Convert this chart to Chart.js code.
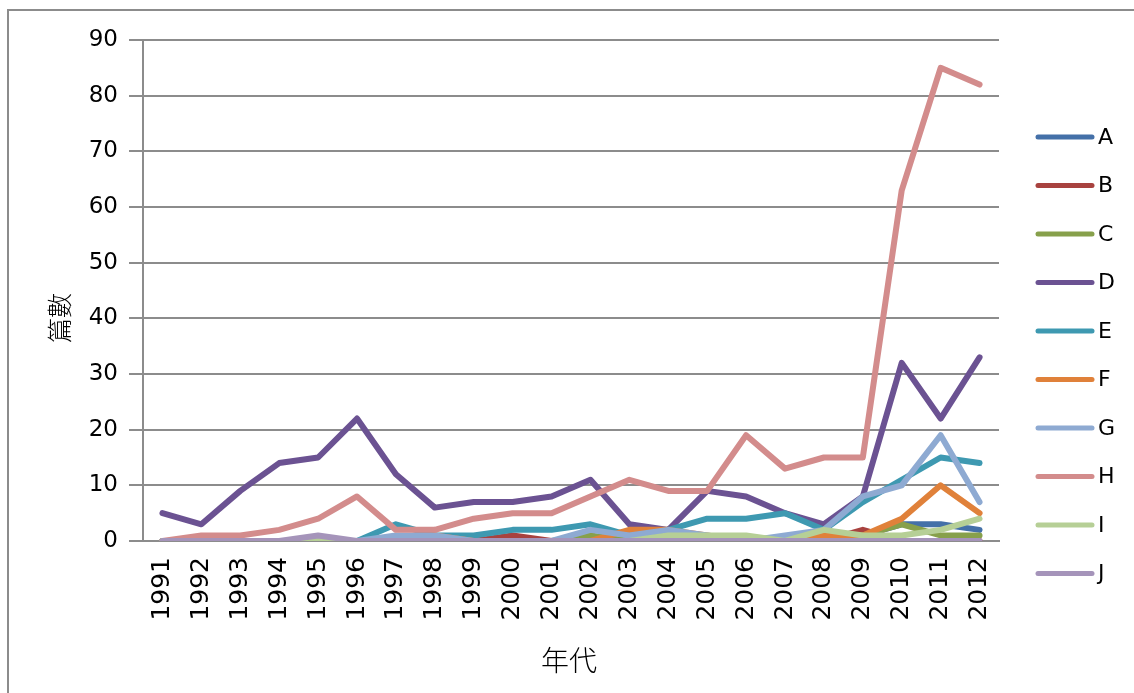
<!DOCTYPE html>
<html>
<head>
<meta charset="utf-8">
<script src="https://cdn.jsdelivr.net/npm/chart.js@4.4.0/dist/chart.umd.min.js"></script>
<style>
  html, body { margin: 0; padding: 0; background: #fff; overflow: hidden; }
  #frame { position: absolute; left: 7px; top: 9px; width: 1200px; height: 800px; border: 2px solid #8c8c8c; z-index: 0; }
  #c { position: absolute; left: 0; top: 0; z-index: 1; }
</style>
</head>
<body>
<div id="frame"></div>
<canvas id="c" width="1134" height="693"></canvas>
<script>
// years on the x axis
var years = ['1991','1992','1993','1994','1995','1996','1997','1998','1999','2000','2001',
             '2002','2003','2004','2005','2006','2007','2008','2009','2010','2011','2012'];

// series values (count per year)
var seriesA = [0,0,0,0,0,0,0,0,0,0,0, 0,0,0,0,0,0,0,1,3,3,2];
var seriesB = [0,0,0,0,0,0,0,0,0,1,0, 0,0,0,0,0,0,0,2,0,0,0];
var seriesC = [0,0,0,0,0,0,0,0,0,0,0, 1,0,0,0,0,0,0,1,3,1,1];
var seriesD = [5,3,9,14,15,22,12,6,7,7,8, 11,3,2,9,8,5,3,8,32,22,33];
var seriesE = [0,0,0,0,0,0,3,1,1,2,2, 3,1,2,4,4,5,2,7,11,15,14];
var seriesF = [0,0,0,0,0,0,0,1,0,0,0, 0,2,2,1,0,0,1,1,4,10,5];
var seriesG = [0,0,0,0,0,0,1,1,0,0,0, 2,1,2,1,0,1,2,8,10,19,7];
var seriesH = [0,1,1,2,4,8,2,2,4,5,5, 8,11,9,9,19,13,15,15,63,85,82];
var seriesI = [0,0,0,0,0,0,0,0,0,0,0, 0,0,1,1,1,0,2,1,1,2,4];
var seriesJ = [0,0,0,0,1,0,0,0,0,0,0, 0,0,0,0,0,0,0,0,0,0,0];

var names = ['A','B','C','D','E','F','G','H','I','J'];
var values = [seriesA, seriesB, seriesC, seriesD, seriesE, seriesF, seriesG, seriesH, seriesI, seriesJ];
var colors = ['#4470a8','#a8423f','#87a04b','#6b5292','#3e99b1','#e0813a','#8eaad2','#d38c8c','#b6cf96','#a594ba'];

var FONT = 'DejaVu Sans';

var datasets = names.map(function (n, i) {
  return {
    label: n,
    data: values[i],
    borderColor: colors[i],
    backgroundColor: colors[i],
    borderWidth: 6,
    pointRadius: 0,
    tension: 0,
    borderCapStyle: 'round',
    borderJoinStyle: 'round',
    order: names.length - i   // later series on top, like the original
  };
});

// legend on the right and the two axis titles, drawn by hand
var extras = {
  id: 'extras',
  afterDraw: function (chart) {
    var ctx = chart.ctx;
    var area = chart.chartArea;
    ctx.save();
    ctx.font = '22px "' + FONT + '"';
    ctx.textBaseline = 'middle';
    ctx.textAlign = 'left';
    chart.data.datasets.forEach(function (ds, i) {
      var y = 137 + i * 48.5;
      ctx.strokeStyle = ds.borderColor;
      ctx.lineWidth = 5;
      ctx.lineCap = 'round';
      ctx.beginPath();
      ctx.moveTo(1038, y);
      ctx.lineTo(1092, y);
      ctx.stroke();
      ctx.fillStyle = '#000';
      ctx.fillText(ds.label, 1098, y + 1);
    });

    ctx.fillStyle = '#000';
    ctx.textAlign = 'center';
    ctx.font = '300 28px "Noto Sans CJK TC"';
    ctx.fillText('年代', (area.left + area.right) / 2 - 2, 660);

    ctx.translate(59, 318);
    ctx.rotate(-Math.PI / 2);
    ctx.font = '300 25px "Noto Sans CJK TC"';
    ctx.fillText('篇數', 0, 0);
    ctx.restore();
  }
};

new Chart(document.getElementById('c'), {
  type: 'line',
  data: { labels: years, datasets: datasets },
  options: {
    responsive: false,
    animation: false,
    layout: { padding: { left: 0, top: 40, right: 135, bottom: 0 } },
    plugins: {
      legend: { display: false },
      tooltip: { enabled: false }
    },
    scales: {
      x: {
        offset: true,
        grid: { display: false },
        border: { display: true, color: '#8c8c8c', width: 2 },
        ticks: {
          color: '#000',
          font: { family: FONT, size: 25 },
          minRotation: 90,
          maxRotation: 90,
          autoSkip: false,
          padding: 8
        },
        afterFit: function (s) { s.height = 152; }
      },
      y: {
        min: 0,
        max: 90,
        grid: { color: '#8c8c8c', lineWidth: 2, tickLength: 14, drawTicks: true },
        border: { display: true, color: '#8c8c8c', width: 2 },
        ticks: {
          stepSize: 10,
          color: '#000',
          font: { family: FONT, size: 23 },
          padding: 11
        },
        afterFit: function (s) { s.width = 143; }
      }
    }
  },
  plugins: [extras]
});
</script>
</body>
</html>
